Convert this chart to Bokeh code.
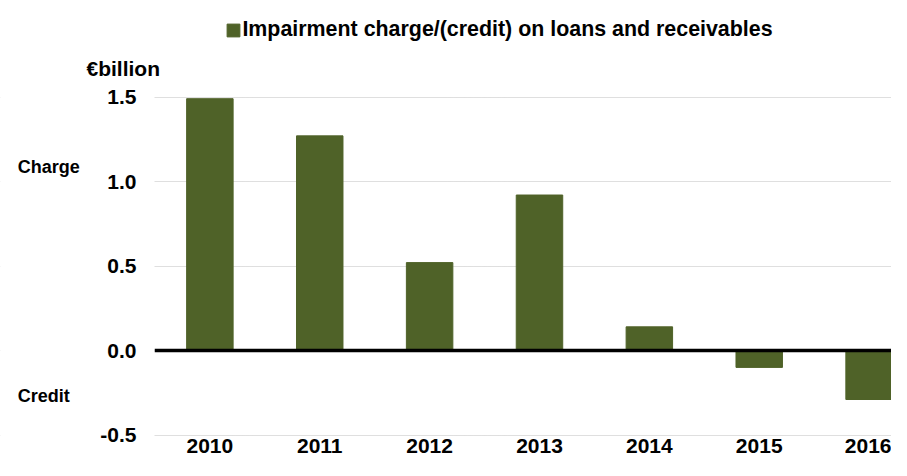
from bokeh.plotting import figure
from bokeh.models import (ColumnDataSource, Range1d, FixedTicker, PrintfTickFormatter,
                          Label, Legend, LegendItem, BoxAnnotation)
from bokeh.embed import file_html
from bokeh.resources import INLINE

years = [2010, 2011, 2012, 2013, 2014, 2015, 2016]
impairment = [1.49, 1.27, 0.52, 0.92, 0.14, -0.10, -0.29]
y_ticks = [-0.5, 0.0, 0.5, 1.0, 1.5]
series_name = "Impairment charge/(credit) on loans and receivables"
unit_label = "€billion"
charge_label = "Charge"
credit_label = "Credit"

BAR_COLOR = "#4F6228"
FONT = "Liberation Sans"

W, H = 891, 460
PX_X = 109.87          # pixels per category
PX_Y = 169.0           # pixels per unit
X0 = 2009.496          # left edge of the bar area (first category edge)
LEFT = 154             # pixel position of that edge
Y_TOP = 96.5           # pixel position of the 1.5 gridline

src = ColumnDataSource(data=dict(year=years, value=impairment))

x_start = X0 - LEFT / PX_X
x_end = X0 + (W - LEFT) / PX_X
y_end = 1.5 + Y_TOP / PX_Y
y_start = 1.5 - (H - Y_TOP) / PX_Y


def y_at(px):
    return 1.5 + (Y_TOP - px) / PX_Y


def x_at(px):
    return X0 + (px - LEFT) / PX_X


p = figure(width=W, height=H, output_backend="svg", toolbar_location=None,
           x_range=Range1d(x_start, x_end), y_range=Range1d(y_start, y_end),
           min_border_left=0, min_border_right=0, min_border_top=0, min_border_bottom=0)
p.outline_line_color = None
p.background_fill_color = "white"
p.border_fill_color = "white"

r = p.vbar(x="year", top="value", bottom=0, width=0.423, source=src,
           fill_color=BAR_COLOR, line_color=BAR_COLOR)

# zero line across the bar area
p.segment(x0=[X0], y0=[0], x1=[x_end + 1], y1=[0], line_color="black", line_width=3.5)

# axes (drawn inside the frame)
p.xaxis.fixed_location = y_ticks[0]
p.xaxis.ticker = FixedTicker(ticks=years)
p.xaxis.formatter = PrintfTickFormatter(format="%d")
p.xaxis.axis_line_color = None
p.xaxis.major_tick_line_color = None
p.xaxis.minor_tick_line_color = None
p.xaxis.major_tick_out = 0
p.xaxis.major_label_standoff = 4
p.xaxis.major_label_text_font = FONT
p.xaxis.major_label_text_font_style = "bold"
p.xaxis.major_label_text_font_size = "21px"
p.xaxis.major_label_text_color = "black"

p.yaxis.fixed_location = X0
p.yaxis.ticker = FixedTicker(ticks=y_ticks)
p.yaxis.formatter = PrintfTickFormatter(format="%.1f")
p.yaxis.axis_line_color = None
p.yaxis.major_tick_line_color = None
p.yaxis.minor_tick_line_color = None
p.yaxis.major_tick_out = 0
p.yaxis.major_label_standoff = 18
p.yaxis.major_label_text_font = FONT
p.yaxis.major_label_text_font_style = "bold"
p.yaxis.major_label_text_font_size = "21px"
p.yaxis.major_label_text_color = "black"

p.xgrid.grid_line_color = None
p.ygrid.ticker = FixedTicker(ticks=y_ticks)
p.ygrid.grid_line_color = "#BFBFBF"
p.ygrid.grid_line_dash = "1 1"
p.ygrid.grid_line_width = 1

# blank out the gridlines left of the bar area
p.add_layout(BoxAnnotation(left=x_start - 1, right=X0, fill_color="white", fill_alpha=1.0,
                           line_color=None, level="glyph"))

# side texts
p.add_layout(Label(x=x_at(86), y=y_at(76.7 - 8.5), text=unit_label,
                   text_font=FONT, text_font_style="bold", text_font_size="21px",
                   text_color="black", text_baseline="alphabetic", text_align="left"))
p.add_layout(Label(x=x_at(17.3), y=y_at(173.5 - 7), text=charge_label,
                   text_font=FONT, text_font_style="bold", text_font_size="18px",
                   text_color="black", text_baseline="alphabetic", text_align="left"))
p.add_layout(Label(x=x_at(17.3), y=y_at(402 - 7), text=credit_label,
                   text_font=FONT, text_font_style="bold", text_font_size="18px",
                   text_color="black", text_baseline="alphabetic", text_align="left"))

legend = Legend(items=[LegendItem(label=series_name, renderers=[r])],
                location=(225.4, H - 42), orientation="horizontal",
                padding=0, margin=0, spacing=0,
                glyph_width=16, glyph_height=16, label_standoff=1,
                label_text_font=FONT, label_text_font_style="bold",
                label_text_font_size="21.4px", label_text_color="black",
                border_line_color=None, background_fill_alpha=0)
p.add_layout(legend)

open("out.html", "w").write(file_html(p, INLINE))
